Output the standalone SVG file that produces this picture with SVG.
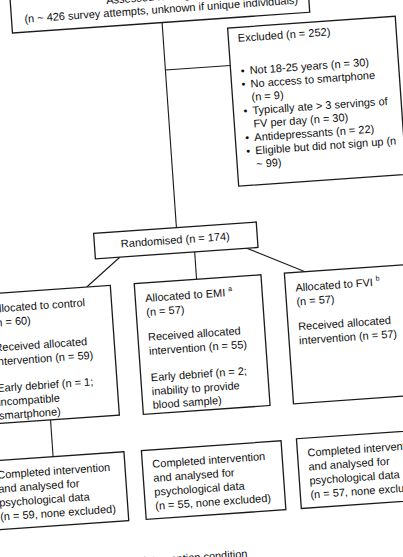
<svg xmlns="http://www.w3.org/2000/svg" width="403" height="557" viewBox="0 0 403 557">
<style>
.box{fill:#fff;stroke:#1a1a1a;stroke-width:1.3}
.ln{fill:none;stroke:#1a1a1a;stroke-width:1.1}
text{font-family:"Liberation Sans",Arial,sans-serif;font-size:11px;fill:#0d0d0d}
.sup{font-size:7px}
</style>
<rect width="403" height="557" fill="#fff"/>
<g transform="rotate(-4 201 278)">
<g id="connectors">
<line class="ln" x1="180" y1="20.5" x2="180" y2="226"/>
<line class="ln" x1="180" y1="68" x2="245" y2="68"/>
<line class="ln" x1="121.7" y1="251.4" x2="86.4" y2="279"/>
<line class="ln" x1="196.5" y1="251.4" x2="196.5" y2="279"/>
<line class="ln" x1="248.7" y1="251.4" x2="305.2" y2="279"/>
<line class="ln" x1="41" y1="409" x2="41" y2="446"/>
</g>
<g id="assessed">
<rect class="box" x="30" y="-30" width="298" height="50.5"/>
<text x="180" y="-2" text-anchor="middle">Assessed for eligibility</text>
<text x="180" y="11" text-anchor="middle">(n ~ 426 survey attempts, unknown if unique individuals)</text>
</g>
<g id="excluded">
<rect class="box" x="245" y="30.5" width="168" height="158.5"/>
<text x="254.5" y="45">Excluded (n = 252)</text>
<text x="255" y="78">•</text><text x="264" y="78">Not 18-25 years (n = 30)</text>
<text x="255" y="91.4">•</text><text x="264" y="91.4">No access to smartphone</text>
<text x="264" y="104.8">(n = 9)</text>
<text x="255" y="118.2">•</text><text x="264" y="118.2">Typically ate &gt; 3 servings of</text>
<text x="264" y="131.6">FV per day (n = 30)</text>
<text x="255" y="145">•</text><text x="264" y="145">Antidepressants (n = 22)</text>
<text x="255" y="158.4">•</text><text x="264" y="158.4">Eligible but did not sign up (n</text>
<text x="264" y="171.8">~ 99)</text>
</g>
<g id="randomised">
<rect class="box" x="97" y="226" width="163" height="25.5"/>
<text x="178" y="242" text-anchor="middle">Randomised (n = 174)</text>
</g>
<g id="control">
<rect class="box" x="-20" y="279" width="130" height="130"/>
<text x="-10" y="298">Allocated to control</text>
<text x="-10" y="312">(n = 60)</text>
<text x="-10" y="337">Received allocated</text>
<text x="-10" y="351">intervention (n = 59)</text>
<text x="-10" y="377.5">Early debrief (n = 1;</text>
<text x="-10" y="391.5">incompatible</text>
<text x="-10" y="405">smartphone)</text>
</g>
<g id="emi">
<rect class="box" x="134" y="279" width="127" height="131"/>
<text x="144" y="298">Allocated to EMI <tspan class="sup" dy="-5">a</tspan></text>
<text x="144" y="312">(n = 57)</text>
<text x="144" y="337">Received allocated</text>
<text x="144" y="351">intervention (n = 55)</text>
<text x="144" y="377.5">Early debrief (n = 2;</text>
<text x="144" y="391.5">inability to provide</text>
<text x="144" y="405">blood sample)</text>
</g>
<g id="fvi">
<rect class="box" x="284.5" y="279" width="127" height="131"/>
<text x="294.5" y="298">Allocated to FVI <tspan class="sup" dy="-5">b</tspan></text>
<text x="294.5" y="312">(n = 57)</text>
<text x="294.5" y="337">Received allocated</text>
<text x="294.5" y="351">intervention (n = 57)</text>
</g>
<g id="completed-control">
<rect class="box" x="-27" y="446" width="139" height="69"/>
<text x="-16" y="464">Completed intervention</text>
<text x="-16" y="478">and analysed for</text>
<text x="-16" y="492">psychological data</text>
<text x="-16" y="506">(n = 59, none excluded)</text>
</g>
<g id="completed-emi">
<rect class="box" x="129.5" y="446" width="140" height="69"/>
<text x="139.5" y="464">Completed intervention</text>
<text x="139.5" y="478">and analysed for</text>
<text x="139.5" y="492">psychological data</text>
<text x="139.5" y="506">(n = 55, none excluded)</text>
</g>
<g id="completed-fvi">
<rect class="box" x="285" y="445" width="140" height="70"/>
<text x="295" y="463.5">Completed intervention</text>
<text x="295" y="477.5">and analysed for</text>
<text x="295" y="491.5">psychological data</text>
<text x="295" y="505.5">(n = 57, none excluded)</text>
</g>
<text x="228" y="560" text-anchor="end">intervention condition</text>
</g>
</svg>
